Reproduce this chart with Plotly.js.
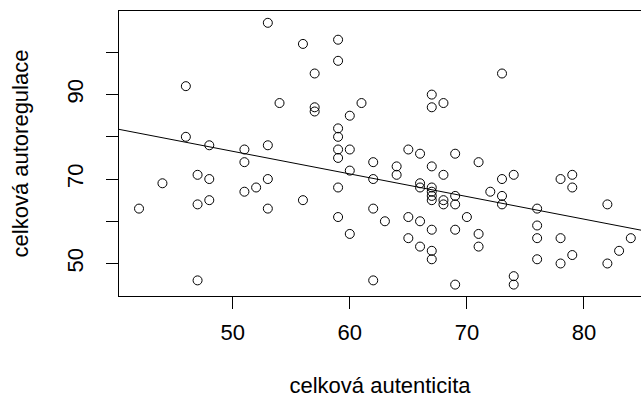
<!DOCTYPE html>
<html>
<head>
<meta charset="utf-8">
<script src="https://cdn.plot.ly/plotly-3.0.1.min.js"></script>
<style>html,body{margin:0;padding:0;background:#fff;overflow:hidden}</style>
</head>
<body>
<div id="chart" style="width:641px;height:399px"></div>
<script>
// celková autenticita (x) vs celková autoregulace (y)
const autenticita = [53,46,54,46,48,51,53,56,59,59,57,57,57,61,60,59,59,59,60,67,67,68,65,66,69,73,
  51,47,48,44,53,52,51,42,47,48,53,47,59,62,64,64,67,68,60,62,59,56,66,66,67,67,67,67,68,68,69,69,
  59,62,63,60,65,66,67,69,65,66,67,67,62,69,71,73,74,72,73,73,70,71,71,74,74,76,76,76,76,78,79,79,
  78,78,79,82,82,83,84];
const autoregulace = [107,92,88,80,78,77,78,102,103,98,95,87,86,88,85,82,80,77,77,90,87,88,77,76,76,95,
  74,71,70,69,70,68,67,63,64,65,63,46,75,74,73,71,73,71,72,70,68,65,69,68,68,67,66,65,65,64,66,64,
  61,63,60,57,61,60,58,58,56,54,53,51,46,45,74,70,71,67,66,64,61,57,54,47,45,63,59,56,51,70,71,68,
  56,50,52,64,50,53,56];
// fitted regression line y = a + b*x
const intercept = 103.35;
const slope = -0.5356;
const xTicks = [50,60,70,80];
const yTicks = [50,60,70,80,90,100];
const yTickText = ['50','','70','','90',''];
const xRange = [40.29, 84.87];
const yRange = [42.3, 109.8];

const lineX = xRange.slice();
const lineY = lineX.map(x => intercept + slope * x);

const font = {family: 'Liberation Sans, Arial, sans-serif', size: 22, color: '#000'};

Plotly.newPlot('chart', [
  {x: autenticita, y: autoregulace, type: 'scatter', mode: 'markers',
   marker: {symbol: 'circle-open', size: 9, color: '#000', line: {width: 1, color: '#000'}},
   cliponaxis: false, hoverinfo: 'x+y'},
  {x: lineX, y: lineY, type: 'scatter', mode: 'lines', line: {color: '#000', width: 1}, hoverinfo: 'skip'}
], {
  width: 641, height: 399,
  margin: {l: 119, r: 0, t: 11, b: 103},
  paper_bgcolor: '#fff', plot_bgcolor: '#fff',
  showlegend: false,
  font: font,
  xaxis: {range: xRange, tickvals: xTicks, ticktext: xTicks.map(String),
    showgrid: false, zeroline: false, showline: true, mirror: true, linecolor: '#000', linewidth: 1,
    ticks: 'outside', ticklen: 12, tickcolor: '#000', tickwidth: 1, ticklabelstandoff: 5,
    tickfont: font,
    title: {text: 'celková autenticita', font: font, standoff: 33}},
  yaxis: {range: yRange, tickvals: yTicks, ticktext: yTickText, tickangle: -90,
    showgrid: false, zeroline: false, showline: true, mirror: false, linecolor: '#000', linewidth: 1,
    ticks: 'outside', ticklen: 12, tickcolor: '#000', tickwidth: 1, ticklabelstandoff: 14,
    tickfont: font,
    title: {text: 'celková autoregulace', font: font, standoff: 28}}
}, {staticPlot: true, displayModeBar: false});
</script>
</body>
</html>
